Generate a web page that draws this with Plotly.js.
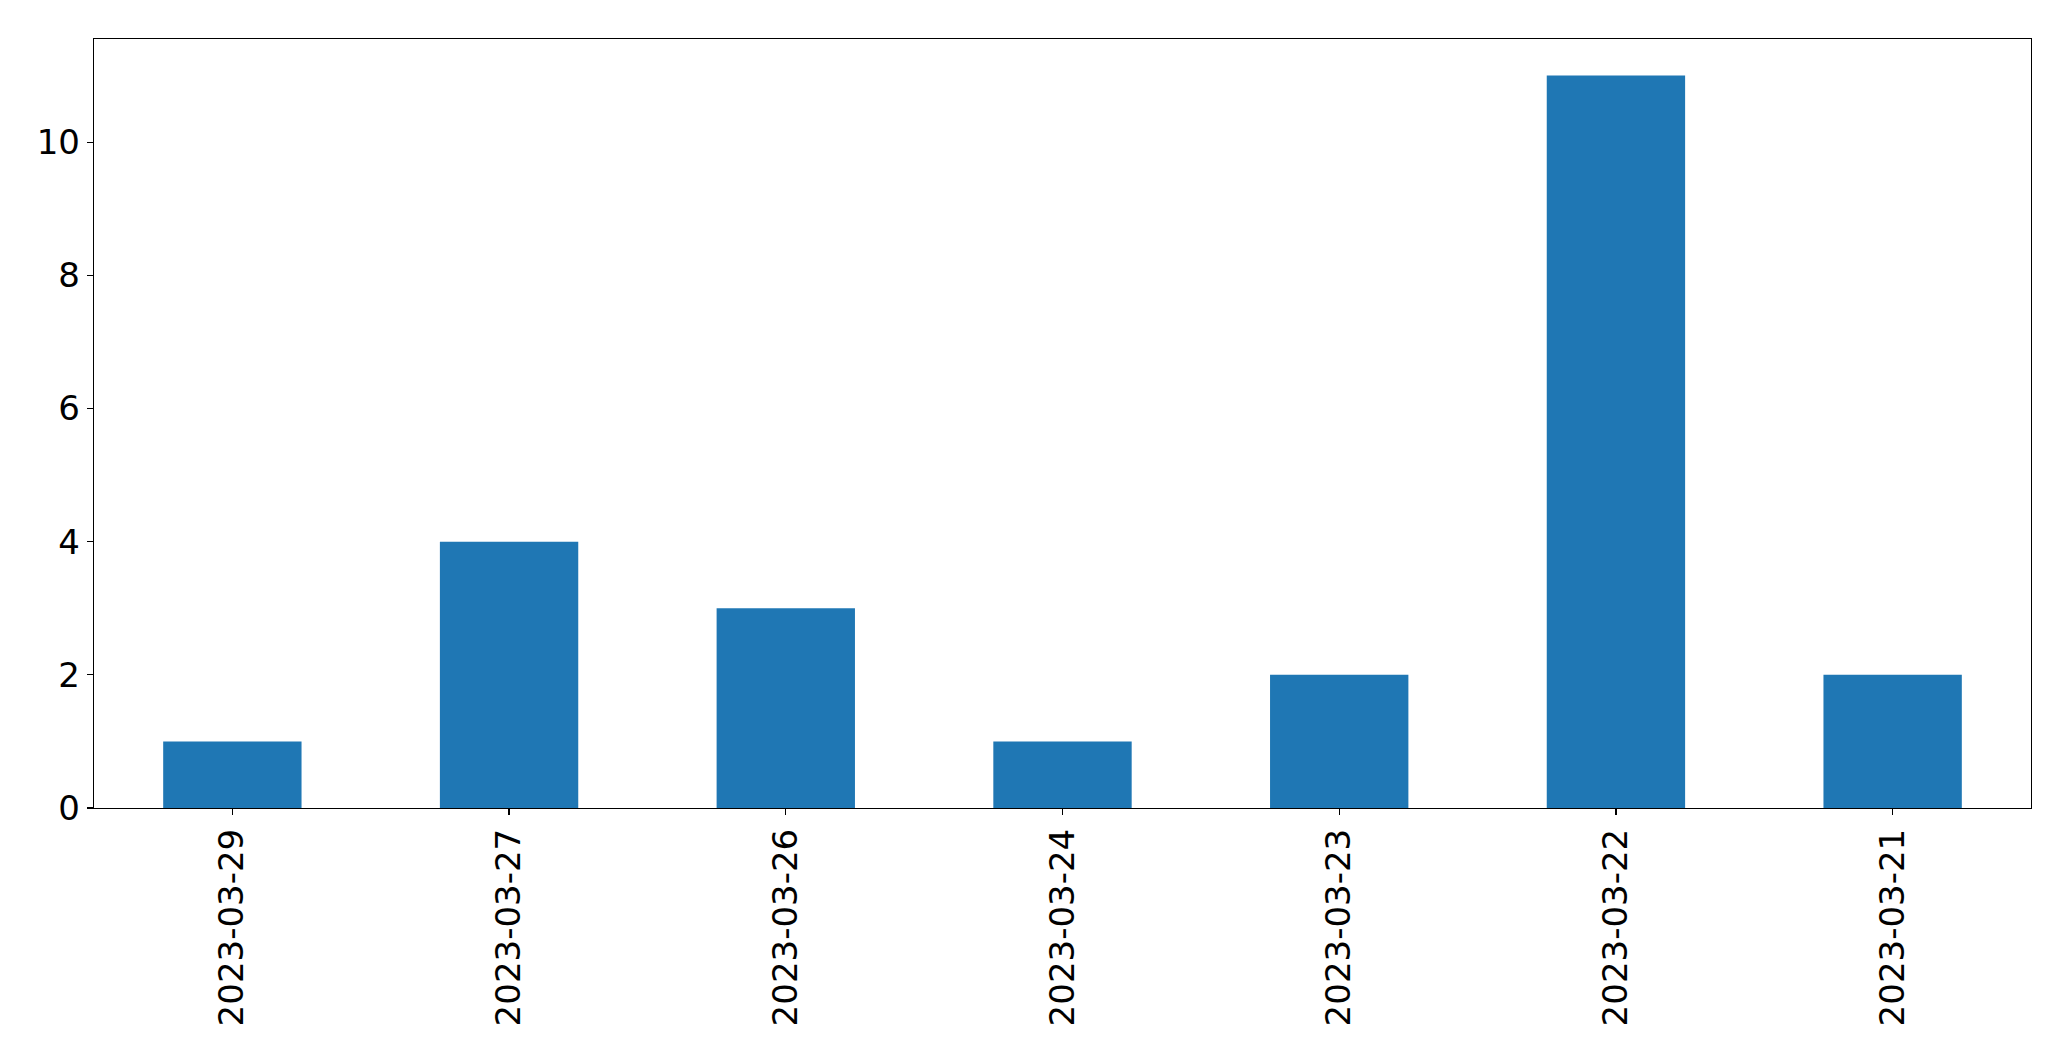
<!DOCTYPE html>
<html>
<head>
<meta charset="utf-8">
<script src="https://cdn.plot.ly/plotly-3.0.1.min.js"></script>
<style>html,body{margin:0;padding:0;background:#fff;}#chart{width:2071px;height:1061px;}</style>
</head>
<body>
<div id="chart"></div>
<script>
const dates = ["2023-03-29","2023-03-27","2023-03-26","2023-03-24","2023-03-23","2023-03-22","2023-03-21"];
const counts = [1, 4, 3, 1, 2, 11, 2];
const yTicks = [0, 2, 4, 6, 8, 10];

const font = {family: "DejaVu Sans", size: 34, color: "#000"};

Plotly.newPlot("chart", [{
  type: "bar",
  x: dates,
  y: counts,
  width: 0.5,
  marker: {color: "#1f77b4", line: {width: 0}},
  hoverinfo: "x+y"
}], {
  width: 2071,
  height: 1061,
  margin: {l: 94, r: 40, t: 39, b: 253, pad: 0},
  paper_bgcolor: "#fff",
  plot_bgcolor: "#fff",
  showlegend: false,
  font: font,
  xaxis: {
    type: "category",
    range: [-0.5, 6.5],
    tickangle: -90,
    ticks: "outside",
    ticklen: 6,
    tickwidth: 1.2,
    tickcolor: "#000",
    tickfont: font,
    showline: true,
    linecolor: "#000",
    linewidth: 1.2,
    mirror: true,
    showgrid: false,
    zeroline: false,
    automargin: false
  },
  yaxis: {
    range: [0, 11.55],
    tickvals: yTicks,
    ticktext: yTicks.map(String),
    ticks: "outside",
    ticklen: 6,
    tickwidth: 1.2,
    tickcolor: "#000",
    tickfont: font,
    showline: true,
    linecolor: "#000",
    linewidth: 1.2,
    mirror: true,
    showgrid: false,
    zeroline: false,
    automargin: false
  }
}, {displayModeBar: false, staticPlot: true});
</script>
</body>
</html>
